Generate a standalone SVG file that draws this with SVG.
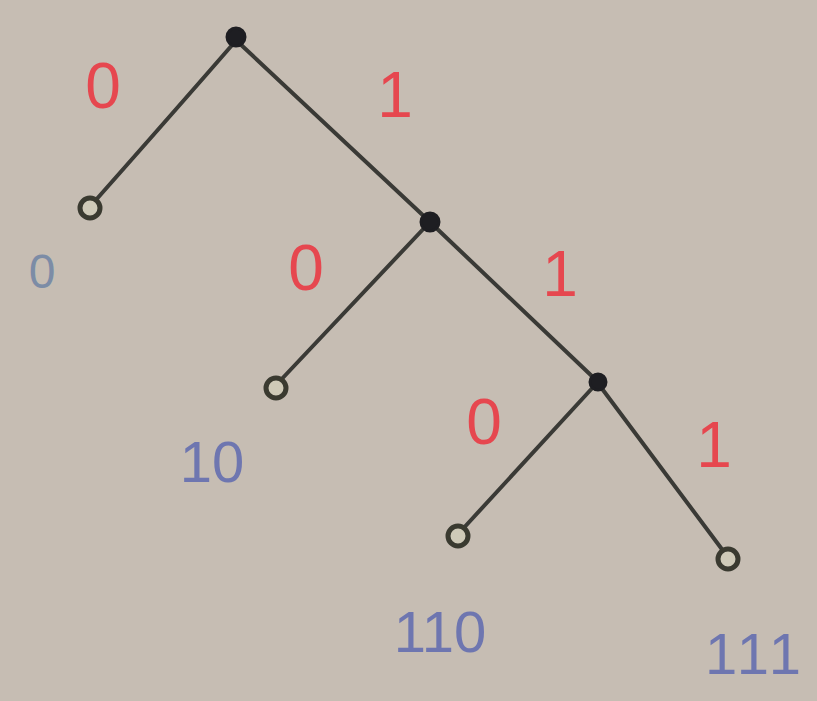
<svg xmlns="http://www.w3.org/2000/svg" width="817" height="701" viewBox="0 0 817 701">
<style>
.edge{stroke:#3a3a36;stroke-width:4;fill:none;stroke-linecap:round}
.inner{fill:#1e1e22;stroke:#1e1e22;stroke-width:3}
.leaf{fill:#cfcab8;stroke:#3a3a30;stroke-width:5}
.bit{fill:#e6474f;font-family:"Liberation Sans",sans-serif;font-size:64px;text-anchor:middle}
.code{fill:#6e76b0;font-family:"Liberation Sans",sans-serif;font-size:58px;text-anchor:middle}
</style>
<rect width="817" height="701" fill="#c6bdb3"/>
<g id="connectors">
<path class="edge" d="M233,44 Q180,105 95,201"/>
<path class="edge" d="M238,42 L428,220"/>
<path class="edge" d="M428,224 L278,383"/>
<path class="edge" d="M432,224 L596,380"/>
<path class="edge" d="M596,384 L460,532"/>
<path class="edge" d="M600,386 L724,552"/>
</g>
<g id="root"><circle class="inner" cx="236" cy="37" r="9"/></g>
<g id="n1"><circle class="inner" cx="430" cy="222" r="9"/></g>
<g id="n11"><circle class="inner" cx="598" cy="382" r="8"/></g>
<g id="leaf0"><circle class="leaf" cx="90" cy="208" r="10"/><text class="code" x="42" y="288" style="fill:#7c8ca6;font-size:48px">0</text></g>
<g id="leaf10"><circle class="leaf" cx="276" cy="388" r="10"/><text class="code" x="212" y="482">10</text></g>
<g id="leaf110"><circle class="leaf" cx="458" cy="536" r="10"/><text class="code" x="440" y="652">110</text></g>
<g id="leaf111"><circle class="leaf" cx="728" cy="559" r="10"/><text class="code" x="755" y="674" style="letter-spacing:4px">111</text></g>
<g id="labels">
<text class="bit" x="103" y="108">0</text>
<text class="bit" x="395" y="117">1</text>
<text class="bit" x="306" y="290">0</text>
<text class="bit" x="560" y="296">1</text>
<text class="bit" x="484" y="444">0</text>
<text class="bit" x="714" y="467">1</text>
</g>
</svg>
